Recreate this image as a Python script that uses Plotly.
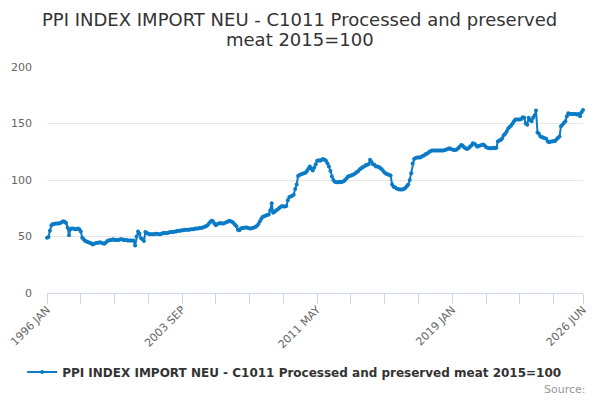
import plotly.graph_objects as go

TITLE_LINE_1 = "PPI INDEX IMPORT NEU - C1011 Processed and preserved"
TITLE_LINE_2 = "meat 2015=100"
SERIES_NAME = "PPI INDEX IMPORT NEU - C1011 Processed and preserved meat 2015=100"
MONTH_NAMES = ["JAN", "FEB", "MAR", "APR", "MAY", "JUN",
               "JUL", "AUG", "SEP", "OCT", "NOV", "DEC"]

# monthly index values, one row per year (1996 JAN .. 2026 JUN)
v1996 = [49, 49.5, 55, 60, 61, 61, 61.5, 61.5, 61.5, 62, 62.5, 63.5]
v1997 = [63, 62, 58, 51, 56.5, 57, 57, 56.5, 56.5, 57, 56.5, 54.5]
v1998 = [49, 47.5, 46, 45.5, 45, 44.5, 44, 43, 43.5, 44, 44.5, 44.5]
v1999 = [45, 44.5, 44, 43.5, 44.5, 46, 46.5, 47, 47, 47.5, 47, 47]
v2000 = [47, 47, 47.5, 47.5, 47, 47, 47, 46.5, 46.5, 46.5, 46.5, 46.5]
v2001 = [42, 50, 54.5, 52.5, 48.5, 47.5, 46, 54, 53, 52.5, 52, 52]
v2002 = [52, 52, 52.5, 52.5, 52, 52, 52.5, 53, 53, 53, 53, 53.5]
v2003 = [54, 54, 54, 54.5, 54.5, 55, 55, 55, 55.5, 55.5, 56, 56]
v2004 = [56, 56, 56.5, 56.5, 56.5, 57, 57, 57, 57.5, 57.5, 58, 58.5]
v2005 = [59, 59.5, 61, 62.5, 64, 63.5, 61.5, 60, 61, 61.5, 62, 61.5]
v2006 = [61.5, 62, 62.5, 63, 64, 63.5, 63, 62, 60.5, 59, 56, 55.5]
v2007 = [57, 57.5, 57.5, 58, 58, 57.5, 57, 57, 57.5, 58, 58.5, 59.5]
v2008 = [61, 63.5, 66, 67.5, 68, 68.5, 69, 69.5, 73, 79.5, 71, 72]
v2009 = [73, 74, 75, 76, 77, 76.5, 76.5, 77, 82, 85, 85.5, 86]
v2010 = [87, 92, 96, 103.5, 104.5, 105, 105.5, 106, 106.5, 108, 110, 112]
v2011 = [110, 108.5, 111, 114, 117, 117.5, 117, 118, 118.5, 118, 117, 114.5]
v2012 = [112, 108, 103, 100, 98.5, 98, 98, 98.5, 98, 98.5, 99, 100]
v2013 = [101.5, 103, 103.5, 104, 104.5, 105, 106, 107, 108, 109.5, 110.5, 111.5]
v2014 = [112, 113, 113.5, 114, 118, 116, 114, 113.5, 112, 112, 111.5, 110.5]
v2015 = [109.5, 108, 106.5, 105.5, 105, 104.5, 104, 96, 94, 93.5, 92.5, 92]
v2016 = [91.5, 91.5, 91.5, 92, 93, 94.5, 96, 100, 106, 114.5, 118.5, 119.5]
v2017 = [120, 120, 120, 120.5, 121.5, 122, 123, 123.5, 124.5, 125.5, 126, 126]
v2018 = [126, 126, 126, 126, 126, 126, 126, 126.5, 127, 127.5, 128, 127.5]
v2019 = [127, 126.5, 126.5, 127, 128, 129.5, 131, 130.5, 129, 128, 127.5, 128]
v2020 = [129.5, 130.5, 132.5, 132, 131, 129.5, 130, 130.5, 131, 131.5, 130.5, 129]
v2021 = [128.5, 128, 128, 128, 128.5, 128, 128.5, 134, 135, 135.5, 137, 139.5]
v2022 = [141, 143, 145.5, 147, 148, 150, 152, 153.5, 153.5, 153.5, 153.5, 154]
v2023 = [155.5, 155, 150, 149, 155, 153, 152, 155, 157, 161.5, 142, 141]
v2024 = [138.5, 138, 137.5, 137, 136.5, 134, 133.5, 134, 134, 134.5, 134.5, 136]
v2025 = [137.5, 138.5, 147.5, 149, 150.5, 152, 156.5, 159, 158.5, 158.5, 158.5, 158.5]
v2026 = [158.5, 158, 158.5, 156.5, 160, 162]

yearly = [v1996, v1997, v1998, v1999, v2000, v2001, v2002, v2003, v2004, v2005,
          v2006, v2007, v2008, v2009, v2010, v2011, v2012, v2013, v2014, v2015,
          v2016, v2017, v2018, v2019, v2020, v2021, v2022, v2023, v2024, v2025,
          v2026]

months, values = [], []
for i, row in enumerate(yearly):
    for j, val in enumerate(row):
        months.append(f"{1996 + i} {MONTH_NAMES[j]}")
        values.append(val)

# a tick every 23 months plus the last one, a label on every 4th
last = len(months) - 1
tick_idx = list(range(0, len(months), 23)) + [last]
tick_vals = [months[i] for i in tick_idx]
tick_text = [months[i] if (i % 92 == 0 or i == last) else "" for i in tick_idx]

BLUE = "#0b7bc6"

fig = go.Figure()
fig.add_trace(go.Scatter(
    x=months,
    y=values,
    mode="lines+markers",
    name=SERIES_NAME,
    line=dict(color=BLUE, width=2),
    marker=dict(color=BLUE, size=4),
    cliponaxis=False,
))

# the page body has an 8px margin, so the figure is laid out 8px up/left
fig.update_layout(
    width=600,
    height=400,
    paper_bgcolor="white",
    plot_bgcolor="white",
    font=dict(family="DejaVu Sans", color="#666666", size=11),
    margin=dict(l=39, r=25, t=59, b=115, autoexpand=False),
    xaxis=dict(
        type="category",
        range=[0, last],
        tickmode="array",
        tickvals=tick_vals,
        ticktext=tick_text,
        tickangle=-45,
        ticks="outside",
        ticklen=10,
        tickcolor="#ccd6eb",
        ticklabelstandoff=-5,
        showline=True,
        linecolor="#ccd6eb",
        linewidth=1,
        showgrid=False,
        automargin=False,
        tickfont=dict(size=11, color="#666666"),
    ),
    yaxis=dict(
        range=[0, 200],
        dtick=50,
        gridcolor="#e6e6e6",
        zeroline=False,
        ticks="",
        ticklabelstandoff=14,
        automargin=False,
        tickfont=dict(size=11, color="#666666"),
    ),
    showlegend=True,
    legend=dict(
        orientation="h",
        x=0.462, xanchor="center",
        y=-0.35, yanchor="middle",
        font=dict(size=12, color="#333333", weight="bold"),
    ),
    annotations=[
        dict(text=TITLE_LINE_1, xref="paper", yref="paper", x=0.472, y=1.212,
             xanchor="center", yanchor="middle", showarrow=False,
             font=dict(size=18, color="#333333")),
        dict(text=TITLE_LINE_2, xref="paper", yref="paper", x=0.472, y=1.12,
             xanchor="center", yanchor="middle", showarrow=False,
             font=dict(size=18, color="#333333")),
        dict(text="Source:", xref="paper", yref="paper", x=1.009, y=-0.425,
             xanchor="right", yanchor="middle", showarrow=False,
             font=dict(size=11, color="#999999")),
    ],
)

fig.write_html("out.html")
